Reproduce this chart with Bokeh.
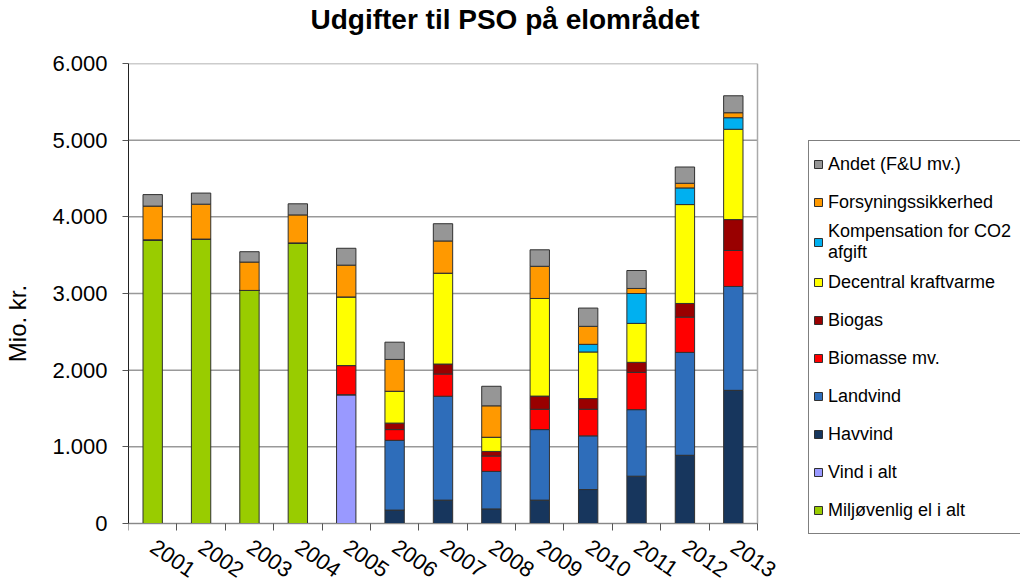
from bokeh.plotting import figure
from bokeh.models import (ColumnDataSource, Range1d, FixedTicker, Legend,
                          LegendItem, Title)
from bokeh.embed import file_html
from bokeh.resources import INLINE

years = ["2001", "2002", "2003", "2004", "2005", "2006", "2007",
         "2008", "2009", "2010", "2011", "2012", "2013"]

# Stack order bottom -> top (Mio. kr.)
miljoevenlig = [3700, 3710, 3040, 3660, 0, 0, 0, 0, 0, 0, 0, 0, 0]
vind_i_alt   = [0, 0, 0, 0, 1680, 0, 0, 0, 0, 0, 0, 0, 0]
havvind      = [0, 0, 0, 0, 0, 175, 305, 190, 305, 443, 617, 890, 1737]
landvind     = [0, 0, 0, 0, 0, 910, 1355, 490, 920, 700, 868, 1342, 1355]
biomasse     = [0, 0, 0, 0, 380, 140, 290, 200, 265, 347, 486, 460, 469]
biogas       = [0, 0, 0, 0, 0, 85, 130, 60, 172, 139, 131, 178, 403]
decentral    = [0, 0, 0, 0, 895, 415, 1185, 185, 1273, 608, 508, 1290, 1178]
kompensation = [0, 0, 0, 0, 0, 0, 0, 0, 0, 100, 390, 217, 151]
forsyning    = [440, 455, 370, 365, 415, 415, 420, 410, 420, 235, 66, 61, 65]
andet        = [150, 145, 135, 145, 220, 225, 225, 255, 215, 238, 234, 212, 221]

series_keys = ["miljo", "vind", "hav", "land", "biomasse", "biogas",
               "decentral", "komp", "forsyning", "andet"]
series_labels = ["Miljøvenlig el i alt", "Vind i alt", "Havvind", "Landvind",
                 "Biomasse mv.", "Biogas", "Decentral kraftvarme",
                 "Kompensation for CO2\nafgift", "Forsyningssikkerhed",
                 "Andet (F&U mv.)"]
series_colors = ["#99CC00", "#9999FF", "#17365D", "#2E6DBA", "#FF0000",
                 "#990000", "#FFFF00", "#00B0F0", "#FF9900", "#969696"]

y_ticks = [0, 1000, 2000, 3000, 4000, 5000, 6000]
y_tick_labels = ["0", "1.000", "2.000", "3.000", "4.000", "5.000", "6.000"]

FONT = "Liberation Sans"

# ---- layout constants (pixels) ----
W, H = 1020, 583
F_LEFT, F_TOP = 128, 63          # frame left / top
PLOT_RIGHT, PLOT_BOTTOM = 757, 523  # where the chart area ends
n = len(years)
px_per_cat = (PLOT_RIGHT - F_LEFT) / n
px_per_unit = (PLOT_BOTTOM - F_TOP) / 6000.0
x_hi = 0.5 + (W - F_LEFT) / px_per_cat
y_lo = -(H - PLOT_BOTTOM) / px_per_unit

x = list(range(1, n + 1))
src = ColumnDataSource(dict(
    x=x, miljo=miljoevenlig, vind=vind_i_alt, hav=havvind, land=landvind,
    biomasse=biomasse, biogas=biogas, decentral=decentral,
    komp=kompensation, forsyning=forsyning, andet=andet))

p = figure(width=W, height=H, output_backend="svg", toolbar_location=None,
           x_range=Range1d(0.5, x_hi), y_range=Range1d(y_lo, 6000),
           min_border_left=F_LEFT, min_border_right=0, min_border_top=F_TOP,
           min_border_bottom=0)

# Gridlines limited to the chart area + right border
p.xgrid.grid_line_color = None
p.ygrid.grid_line_color = None
p.segment(x0=[0.5] * len(y_ticks), x1=[n + 0.5] * len(y_ticks),
          y0=y_ticks, y1=y_ticks, line_color="#999999", line_width=1.5)
p.segment(x0=[n + 0.5], x1=[n + 0.5], y0=[0], y1=[max(y_ticks)],
          line_color="#aaaaaa", line_width=1.5)

renderers = p.vbar_stack(series_keys, x="x", width=0.4, source=src,
                         fill_color=series_colors, line_color="#303030",
                         line_width=1)

p.outline_line_color = None
p.background_fill_color = "white"
p.border_fill_color = "white"

# Titles: spacer nearest the frame, then the real title
p.add_layout(Title(text=" ", text_font_size="24px", standoff=0), "above")
p.add_layout(Title(text="Udgifter til PSO på elområdet", text_font=FONT,
                   text_font_size="28px", text_font_style="bold",
                   text_color="black", align="left", offset=182, standoff=0),
             "above")

# Y axis
yax = p.yaxis[0]
yax.ticker = FixedTicker(ticks=y_ticks)
yax.bounds = (0, max(y_ticks))
yax.major_label_overrides = {v: s for v, s in zip(y_ticks, y_tick_labels)}
yax.major_label_text_font = FONT
yax.major_label_text_font_size = "22px"
yax.major_label_text_color = "black"
yax.major_label_standoff = 15
yax.major_tick_out = 6
yax.major_tick_in = 0
yax.minor_tick_line_color = None
yax.axis_line_color = "#222222"
yax.major_tick_line_color = "#555555"
yax.axis_label = "Mio. kr."
yax.axis_label_text_font = FONT
yax.axis_label_text_font_size = "24px"
yax.axis_label_text_font_style = "normal"
yax.axis_label_text_color = "black"
yax.axis_label_standoff = 18

# X axis fixed at y=0, labels at centres, ticks at category boundaries
xax = p.xaxis[0]
xax.fixed_location = 0
xax.bounds = (0.5, n + 0.5)
xax.ticker = FixedTicker(ticks=x, minor_ticks=[i + 0.5 for i in range(0, n + 1)])
xax.major_label_overrides = {i: y for i, y in zip(x, years)}
xax.major_label_orientation = -0.6
xax.major_label_text_font = FONT
xax.major_label_text_font_size = "22px"
xax.major_label_text_color = "black"
xax.major_label_standoff = 14
xax.major_tick_out = 0
xax.major_tick_in = 0
xax.minor_tick_out = 7
xax.minor_tick_in = 0
xax.minor_tick_line_color = "#555555"
xax.axis_line_color = "#888888"

# Legend (reversed order)
items = [LegendItem(label=lbl, renderers=[r])
         for lbl, r in zip(series_labels[::-1], renderers[::-1])]
legend = Legend(items=items, location=(680, 49))
legend.label_text_font = FONT
legend.label_text_font_size = "18px"
legend.label_text_color = "black"
legend.glyph_width = 10
legend.glyph_height = 10
legend.label_standoff = 5
legend.label_height = 38
legend.spacing = 0
legend.padding = 4
legend.margin = 0
legend.label_width = 220
legend.border_line_color = "black"
legend.border_line_width = 1
legend.background_fill_color = "white"
legend.background_fill_alpha = 1
p.add_layout(legend, "center")

open("out.html", "w").write(file_html(p, INLINE))
